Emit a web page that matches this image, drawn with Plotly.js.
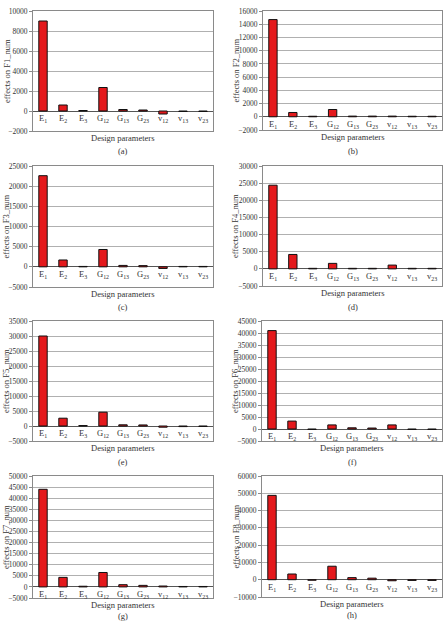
<!DOCTYPE html>
<html>
<head>
<meta charset="utf-8">
<script src="https://cdn.plot.ly/plotly-3.0.1.min.js"></script>
<style>
  html, body { margin: 0; padding: 0; background: #fff; }
  #chart { width: 445px; height: 624px; }
</style>
</head>
<body>
<div id="chart"></div>
<script>
// Design parameters (x categories) and their display labels
const categories = ['E1', 'E2', 'E3', 'G12', 'G13', 'G23', 'v12', 'v13', 'v23'];
const tickLabels = ['E<sub>1</sub>', 'E<sub>2</sub>', 'E<sub>3</sub>', 'G<sub>12</sub>', 'G<sub>13</sub>',
                    'G<sub>23</sub>', 'v<sub>12</sub>', 'v<sub>13</sub>', 'v<sub>23</sub>'];

// Effects of each design parameter on the natural frequencies F1..F8
const effectsF1 = [9000, 600, 50, 2350, 150, 100, -300, -50, -50];
const effectsF2 = [14700, 650, 80, 1100, 100, 100, 100, 80, 80];
const effectsF3 = [22600, 1700, 100, 4300, 350, 300, -400, 100, 100];
const effectsF4 = [24400, 4200, 150, 1600, 150, 150, 1100, 150, 150];
const effectsF5 = [30000, 2600, 150, 4600, 400, 350, -400, -200, -150];
const effectsF6 = [41000, 3300, -200, 1700, 500, 400, 1700, -200, -200];
const effectsF7 = [44000, 4300, 300, 6500, 1000, 700, 400, 200, 200];
const effectsF8 = [48800, 3300, -300, 7800, 1200, 900, -600, -400, -400];

const panelNames = ['F1_num', 'F2_num', 'F3_num', 'F4_num', 'F5_num', 'F6_num', 'F7_num', 'F8_num'];
const panelTags = ['(a)', '(b)', '(c)', '(d)', '(e)', '(f)', '(g)', '(h)'];
const series = [effectsF1, effectsF2, effectsF3, effectsF4, effectsF5, effectsF6, effectsF7, effectsF8];

// Axis ranges and tick steps for each panel
const yRanges = [[-2000, 10000], [-2000, 16000], [-5000, 25000], [-5000, 30000],
                 [-5000, 35000], [-5000, 45000], [-5000, 50000], [-10000, 60000]];
const yDticks = [2000, 2000, 5000, 5000, 5000, 5000, 5000, 10000];

// Plot boxes in pixels: [left, top, right, bottom]
const W = 445, H = 624;
const boxes = [
  [33, 11, 213, 131], [263, 11, 442, 130],
  [33, 166, 213, 287], [263, 166, 442, 286],
  [33, 321, 213, 441], [262, 321, 442, 441],
  [33, 476, 213, 598], [262, 476, 442, 597]
];
const yTitleX = [7, 235, 6, 235, 6, 235, 6, 235];
const tagY = [151, 151, 307, 307, 462, 462, 616, 615];

const serif = 'Times New Roman, Liberation Serif, DejaVu Serif, serif';
const ink = '#333';
const data = [];
const layout = {
  width: W, height: H,
  margin: {l: 0, r: 0, t: 0, b: 0},
  paper_bgcolor: '#fff', plot_bgcolor: '#fff',
  showlegend: false,
  bargap: 0.58,
  font: {family: serif, size: 8, color: ink},
  annotations: []
};

series.forEach((vals, i) => {
  const n = i + 1;
  const xa = n === 1 ? 'x' : 'x' + n;
  const ya = n === 1 ? 'y' : 'y' + n;
  const b = boxes[i];
  data.push({
    type: 'bar', x: categories, y: vals, xaxis: xa, yaxis: ya,
    marker: {color: '#e4191c', line: {color: '#111', width: 1}},
    hoverinfo: 'x+y'
  });
  layout['xaxis' + (n === 1 ? '' : n)] = {
    domain: [b[0] / W, b[2] / W], anchor: ya,
    type: 'category', categoryorder: 'array', categoryarray: categories,
    showticklabels: false, ticks: '', showgrid: false,
    showline: true, mirror: true, linecolor: '#8a8a8a', linewidth: 1,
    fixedrange: true
  };
  layout['yaxis' + (n === 1 ? '' : n)] = {
    domain: [1 - b[3] / H, 1 - b[1] / H], anchor: xa,
    range: yRanges[i], dtick: yDticks[i], tick0: 0, tickformat: 'd',
    ticks: 'outside', ticklen: 3, tickcolor: '#8a8a8a',
    tickfont: {family: serif, size: 7.5, color: ink},
    showgrid: true, gridcolor: '#b0b0b0', gridwidth: 1,
    zeroline: true, zerolinecolor: '#555', zerolinewidth: 1,
    showline: true, mirror: true, linecolor: '#8a8a8a', linewidth: 1,
    fixedrange: true
  };
  // category labels hang just under the zero line
  categories.forEach((c, k) => {
    layout.annotations.push({
      xref: xa, yref: ya, x: c, y: 0, yanchor: 'top', yshift: 0,
      text: tickLabels[k], showarrow: false,
      font: {family: serif, size: 8.5, color: ink}
    });
  });
  layout.annotations.push({
    xref: xa + ' domain', yref: ya + ' domain', x: 0.5, y: 0, yanchor: 'top', yshift: 0,
    text: 'Design parameters', showarrow: false,
    font: {family: serif, size: 8.5, color: ink}
  });
  layout.annotations.push({
    xref: xa + ' domain', yref: 'paper', x: 0.5, y: 1 - tagY[i] / H,
    yanchor: 'middle',
    text: panelTags[i], showarrow: false,
    font: {family: serif, size: 8.5, color: ink}
  });
  layout.annotations.push({
    xref: 'paper', yref: ya + ' domain', x: yTitleX[i] / W, y: 0.5,
    xanchor: 'center', yanchor: 'middle', textangle: -90,
    text: 'effects on ' + panelNames[i], showarrow: false,
    font: {family: serif, size: 8.5, color: ink}
  });
});

Plotly.newPlot('chart', data, layout, {displayModeBar: false, staticPlot: true});
</script>
</body>
</html>
